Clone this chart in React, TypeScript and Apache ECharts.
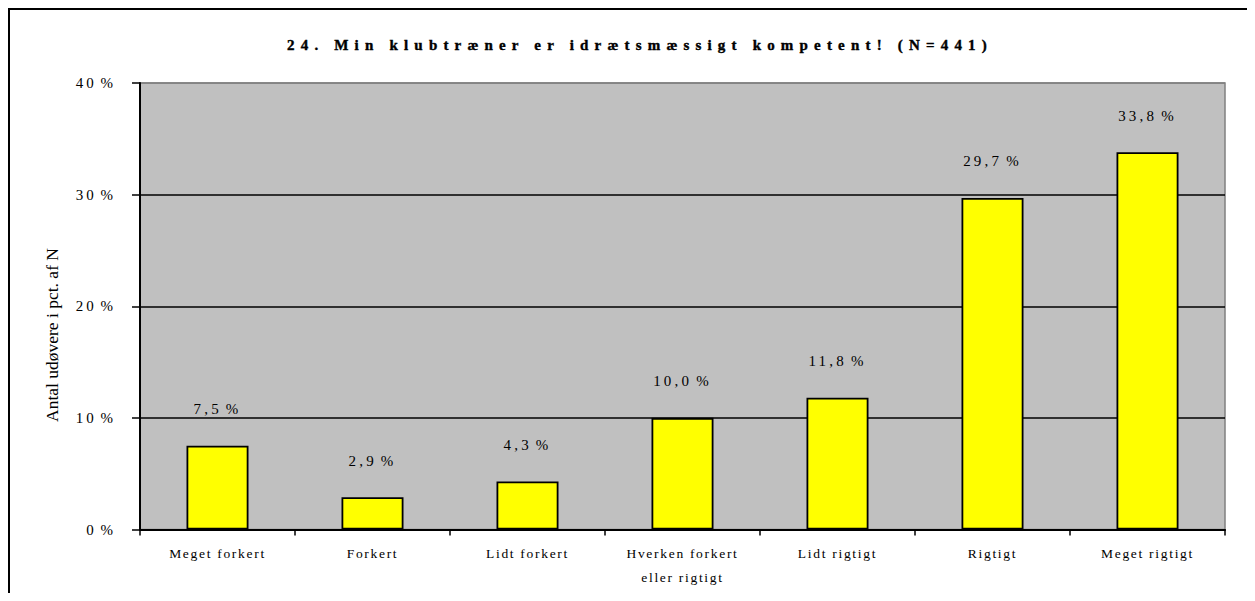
import React, { useEffect, useRef } from "react";
import * as echarts from "echarts";

const titleText = "24. Min klubtræner er idrætsmæssigt kompetent! (N=441)";
const yAxisTitle = "Antal udøvere i pct. af N";
const categories = [
  "Meget forkert",
  "Forkert",
  "Lidt forkert",
  "Hverken forkert\neller rigtigt",
  "Lidt rigtigt",
  "Rigtigt",
  "Meget rigtigt",
];
const values = [7.5, 2.9, 4.3, 10.0, 11.8, 29.7, 33.8];
const yMin = 0;
const yMax = 40;
const yInterval = 10;

const FONT = "'Liberation Serif', 'Times New Roman', serif";

export default function App() {
  const ref = useRef<HTMLDivElement>(null);

  useEffect(() => {
    const el = ref.current!;
    const chart = echarts.init(el, undefined, { renderer: "svg" });
    const option: any = {
      animation: false,
      backgroundColor: "#ffffff",
      grid: {
        left: 132,
        top: 75,
        right: 30,
        bottom: 71.5,
        show: true,
        backgroundColor: "#C0C0C0",
        borderColor: "#808080",
        borderWidth: 1.5,
      },
      graphic: [
        {
          type: "rect",
          silent: true,
          shape: { x: 1, y: 1, width: 1400, height: 800 },
          style: { fill: "none", stroke: "#000", lineWidth: 2 },
        },
        {
          type: "text",
          silent: true,
          x: 632,
          y: 37,
          style: {
            text: titleText,
            font: `bold 15px ${FONT}`,
            fill: "#000",
            stroke: "#000",
            lineWidth: 0.4,
            align: "center",
            verticalAlign: "middle",
          },
        },
        {
          type: "text",
          silent: true,
          x: 44,
          y: 327,
          rotation: Math.PI / 2,
          style: {
            text: yAxisTitle,
            font: `17.5px ${FONT}`,
            fill: "#000",
            align: "center",
            verticalAlign: "middle",
          },
        },
      ],
      xAxis: {
        type: "category",
        data: categories,
        axisLine: { show: true, lineStyle: { color: "#000", width: 2 } },
        axisTick: {
          show: true,
          alignWithLabel: false,
          length: 6,
          lineStyle: { color: "#000", width: 1.5 },
        },
        axisLabel: {
          interval: 0,
          margin: 12,
          color: "#000",
          fontFamily: FONT,
          fontSize: 13.5,
          lineHeight: 24,
        },
        splitLine: { show: false },
      },
      yAxis: {
        type: "value",
        min: yMin,
        max: yMax,
        interval: yInterval,
        axisLine: { show: true, lineStyle: { color: "#000", width: 2 } },
        axisTick: {
          show: true,
          inside: false,
          length: 8,
          lineStyle: { color: "#000", width: 1.5 },
        },
        axisLabel: {
          margin: 24,
          color: "#000",
          fontFamily: FONT,
          fontSize: 15,
          verticalAlign: "middle",
          padding: [0, 0, 9, 0],
          formatter: (v: number) => `${v} %`,
        },
        splitLine: {
          show: true,
          lineStyle: {
            color: ["#000", "#000", "#000", "#000", "#808080"],
            width: 1.5,
          },
        },
      },
      series: [
        {
          type: "bar",
          data: values,
          barWidth: "40%",
          itemStyle: { color: "#FFFF00", borderColor: "#000", borderWidth: 1.8 },
          label: {
            show: true,
            position: "top",
            distance: 29,
            color: "#000",
            fontFamily: FONT,
            fontSize: 15,
            formatter: (p: any) => `${Number(p.value).toFixed(1).replace(".", ",")} %`,
          },
        },
      ],
    };
    chart.setOption(option);

    const applySpacing = () => {
      const texts = el.querySelectorAll("text");
      texts.forEach((t) => {
        const s = t.textContent || "";
        if (s === titleText) {
          t.setAttribute("letter-spacing", "0");
          const w0 = (t as SVGTextElement).getComputedTextLength();
          const n = Array.from(s).length;
          const ls = Math.max(0, (700 - w0) / (n - 1));
          t.setAttribute("letter-spacing", ls.toFixed(2));
        } else if (s === yAxisTitle) {
          t.setAttribute("letter-spacing", "0");
        } else if (/^\d+,\d %$/.test(s)) {
          t.setAttribute("letter-spacing", "3.2");
          t.setAttribute("word-spacing", "-3");
        } else if (/^\d+ %$/.test(s)) {
          t.setAttribute("letter-spacing", "3");
          t.setAttribute("word-spacing", "-3");
        } else {
          t.setAttribute("letter-spacing", "1.7");
        }
      });
    };
    applySpacing();
    chart.on("finished", applySpacing);
    const timer = setTimeout(applySpacing, 50);

    return () => {
      clearTimeout(timer);
      chart.dispose();
    };
  }, []);

  return (
    <div
      ref={ref}
      style={{ width: 1247, height: 593, marginBottom: -8, overflow: "hidden" }}
    />
  );
}
